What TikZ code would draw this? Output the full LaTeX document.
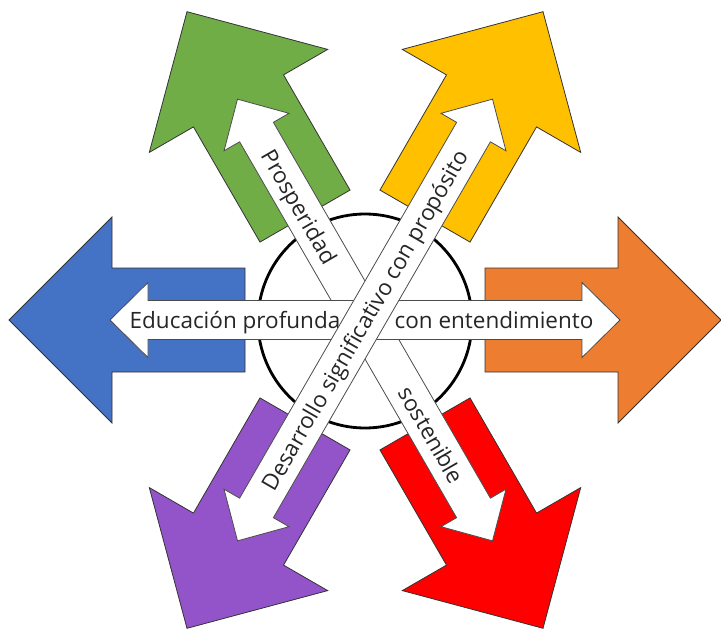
\documentclass[tikz,border=0pt]{standalone}
\usepackage{fontspec}
\setmainfont{Open Sans}
\definecolor{cblue}{HTML}{4472C4}
\definecolor{corange}{HTML}{ED7D31}
\definecolor{cgreen}{HTML}{70AD47}
\definecolor{cyellow}{HTML}{FFC000}
\definecolor{cpurple}{HTML}{9354C9}
\definecolor{cred}{HTML}{FF0000}
\tikzset{
  bigarrow/.style={draw=black!80, line width=0.8pt, line join=miter, fill=#1},
  whitearrow/.style={draw=black!70, line width=0.8pt, line join=miter, fill=white},
  lbl/.style={font=\fontsize{22.5}{27}\selectfont, anchor=base, inner sep=0pt, transform shape, text=black!85}
}
\begin{document}
\begin{tikzpicture}[x=1pt,y=-1pt]
\useasboundingbox (0,0) rectangle (721,634);
% central circle
\draw[line width=2.8pt] (365,321) circle[radius=107];
% coloured arrows
\foreach \ang/\col in {0/corange,60/cyellow,120/cgreen,180/cblue,240/cpurple,300/cred}{
  \begin{scope}[shift={(365,320)},rotate=\ang]
    \draw[bigarrow=\col] (120,-52) -- (253,-52) -- (253,-103) -- (356,0) -- (253,103) -- (253,52) -- (120,52) -- cycle;
  \end{scope}
}
% white double arrows
\begin{scope}[shift={(365,320)},rotate=-60]
  \draw[whitearrow] (-217,-19.5) -- (217,-19.5) -- (217,-37.5) -- (255,0) -- (217,37.5) -- (217,19.5) -- (-217,19.5) -- (-217,37.5) -- (-255,0) -- (-217,-37.5) -- cycle;
  \node[lbl] (prosp) at (-131,8.3) {Prosperidad};
  \node[lbl] (sost) at (133,8.3) {sostenible};
\end{scope}
\begin{scope}[shift={(365,320)}]
  \draw[whitearrow] (-217,-19.5) -- (217,-19.5) -- (217,-37.5) -- (255,0) -- (217,37.5) -- (217,19.5) -- (-217,19.5) -- (-217,37.5) -- (-255,0) -- (-217,-37.5) -- cycle;
  \node[lbl] (educ) at (-130,8.3) {Educación profunda};
  \node[lbl] (ente) at (129,8.3) {con entendimiento};
\end{scope}
\begin{scope}[shift={(365,320)},rotate=60]
  \draw[whitearrow] (-217,-19.5) -- (217,-19.5) -- (217,-37.5) -- (255,0) -- (217,37.5) -- (217,19.5) -- (-217,19.5) -- (-217,37.5) -- (-255,0) -- (-217,-37.5) -- cycle;
  \node[lbl] (desa) at (0,8.3) {Desarrollo significativo con propósito};
\end{scope}
\end{tikzpicture}
\end{document}
